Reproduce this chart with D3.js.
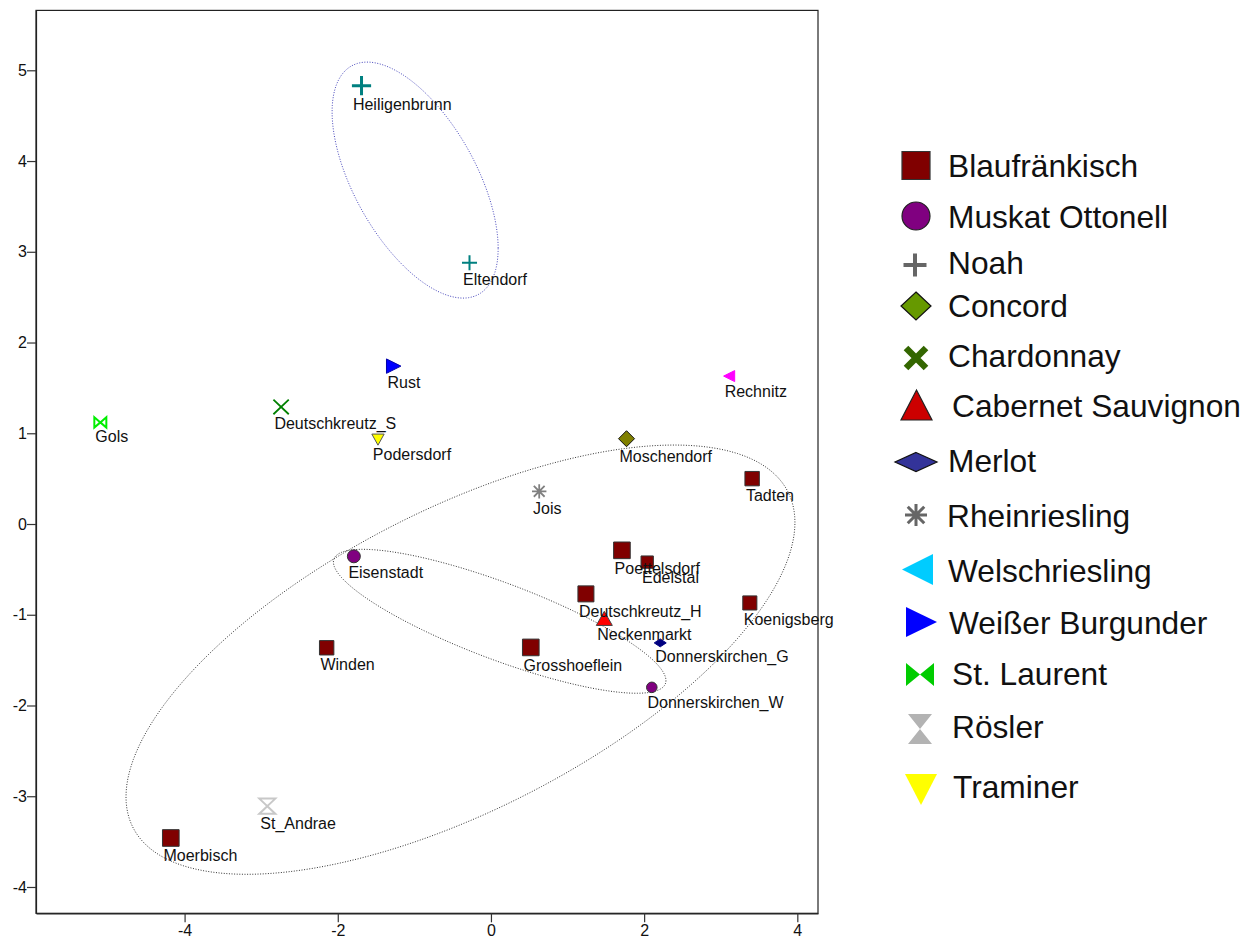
<!DOCTYPE html>
<html>
<head>
<meta charset="utf-8">
<script src="https://cdn.jsdelivr.net/npm/d3@7"></script>
<style>
  html, body { margin: 0; padding: 0; background: #fff; }
  svg { display: block; font-family: "Liberation Sans", Arial, sans-serif; }
</style>
</head>
<body>
<svg id="chart" width="1252" height="939"></svg>
<script>
// ---------------- DATA ----------------
const varieties = ["Blaufränkisch", "Muskat Ottonell", "Noah", "Concord", "Chardonnay",
  "Cabernet Sauvignon", "Merlot", "Rheinriesling", "Welschriesling", "Weißer Burgunder",
  "St. Laurent", "Rösler", "Traminer"];

const sites = ["Heiligenbrunn", "Eltendorf", "Rust", "Rechnitz", "Deutschkreutz_S", "Gols",
  "Podersdorf", "Moschendorf", "Jois", "Tadten", "Eisenstadt", "Poettelsdorf", "Edelstal",
  "Deutschkreutz_H", "Neckenmarkt", "Koenigsberg", "Winden", "Grosshoeflein",
  "Donnerskirchen_G", "Donnerskirchen_W", "St_Andrae", "Moerbisch"];

const siteVariety = ["Noah", "Noah", "Weißer Burgunder", "Welschriesling", "Chardonnay", "St. Laurent",
  "Traminer", "Concord", "Rheinriesling", "Blaufränkisch", "Muskat Ottonell", "Blaufränkisch", "Blaufränkisch",
  "Blaufränkisch", "Cabernet Sauvignon", "Blaufränkisch", "Blaufränkisch", "Blaufränkisch",
  "Merlot", "Muskat Ottonell", "Rösler", "Blaufränkisch"];

const dim1 = [-1.69, -0.28, -1.27, 3.11, -2.74, -5.10, -1.475, 1.77, 0.63, 3.41, -1.79, 1.71, 2.04,
  1.24, 1.48, 3.38, -2.145, 0.52, 2.21, 2.10, -2.92, -4.18];
const dim2 = [4.83, 2.88, 1.74, 1.63, 1.29, 1.12, 0.93, 0.94, 0.36, 0.50, -0.356, -0.29, -0.42,
  -0.77, -1.04, -0.87, -1.364, -1.36, -1.31, -1.80, -3.11, -3.46];
// relative marker weight
const weight = [1.2, 0.94, 0.9, 0.69, 0.96, 0.75, 0.77, 1.0, 0.9, 0.9, 0.81, 1.04, 0.77,
  1.0, 1.0, 0.88, 0.9, 1.04, 0.75, 0.66, 1.0, 1.04];

const xTicks = [-4, -2, 0, 2, 4];
const yTicks = [-4, -3, -2, -1, 0, 1, 2, 3, 4, 5];

// confidence ellipses in data units: centre, conjugate semi-axis vectors u and v
const ellipseCenter = [[-0.99, 3.79], [-0.398, -1.495], [0.114, -1.072]];
const ellipseU = [[1.084, -0.752], [4.367, 1.512], [2.171, -0.653]];
const ellipseV = [[0, -1.061], [0, 1.819], [0, -0.45]];

// ---------------- STYLE ----------------
const style = {
  "Blaufränkisch":      {shape: "square",   chart: "#800000", legend: "#800000", stroke: "#333", lstroke: "#333", filled: true},
  "Muskat Ottonell":    {shape: "circle",   chart: "#800080", legend: "#800080", stroke: "#333", lstroke: "#222", filled: true},
  "Noah":               {shape: "plus",     chart: "#008080", legend: "#666666", filled: false},
  "Concord":            {shape: "diamond",  chart: "#808000", legend: "#669900", stroke: "#111", lstroke: "#111", filled: true},
  "Chardonnay":         {shape: "x",        chart: "#008000", legend: "#336600", filled: false},
  "Cabernet Sauvignon": {shape: "triUp",    chart: "#ff0000", legend: "#cc0000", stroke: "#444", lstroke: "#222", filled: true},
  "Merlot":             {shape: "flatDiamond", chart: "#000080", legend: "#333399", stroke: "#000080", lstroke: "#111", filled: true},
  "Rheinriesling":      {shape: "asterisk", chart: "#808080", legend: "#666666", filled: false},
  "Welschriesling":     {shape: "triLeft",  chart: "#ff00ff", legend: "#00ccff", stroke: "#ff00ff", lstroke: "none", filled: true},
  "Weißer Burgunder":   {shape: "triRight", chart: "#0000ff", legend: "#0000ff", stroke: "#0000aa", lstroke: "none", filled: true},
  "St. Laurent":        {shape: "bowtie",   chart: "#00ee00", legend: "#00cc00", stroke: "#00ee00", lstroke: "none", filled: false, lfilled: true},
  "Rösler":             {shape: "hourglass", chart: "#c8c8c8", legend: "#b3b3b3", stroke: "#c8c8c8", lstroke: "none", filled: false, lfilled: true},
  "Traminer":           {shape: "triDown",  chart: "#ffff00", legend: "#ffff00", stroke: "#555", lstroke: "none", filled: true}
};

// shape path generator: w = full width, h = full height
function shapePath(shape, w, h) {
  const a = w / 2, b = h / 2;
  switch (shape) {
    case "square": return `M${-a},${-b}H${a}V${b}H${-a}Z`;
    case "plus": return `M${-a},0H${a}M0,${-b}V${b}`;
    case "diamond": case "flatDiamond": return `M0,${-b}L${a},0L0,${b}L${-a},0Z`;
    case "x": return `M${-a},${-b}L${a},${b}M${-a},${b}L${a},${-b}`;
    case "triUp": return `M0,${-b}L${a},${b}L${-a},${b}Z`;
    case "triDown": return `M${-a},${-b}L${a},${-b}L0,${b}Z`;
    case "triLeft": return `M${-a},0L${a},${-b}L${a},${b}Z`;
    case "triRight": return `M${a},0L${-a},${-b}L${-a},${b}Z`;
    case "bowtie": return `M${-a},${-b}L0,0L${-a},${b}ZM${a},${-b}L0,0L${a},${b}Z`;
    case "hourglass": return `M${-a},${-b}H${a}L0,0ZM${-a},${b}H${a}L0,0Z`;
    case "asterisk": {
      const d = a * 0.75;
      return `M0,${-b}V${b}M${-a},0H${a}M${-d},${-d}L${d},${d}M${-d},${d}L${d},${-d}`;
    }
  }
  return "";
}
function aspect(shape) {
  return {square: 1, circle: 1, plus: 1, diamond: 1, flatDiamond: 0.66, x: 0.95, triUp: 0.88,
    triDown: 0.9, triLeft: 1, triRight: 1, bowtie: 0.85, hourglass: 0.95, asterisk: 1}[shape];
}

// ---------------- CHART ----------------
const svg = d3.select("#chart");
const plot = {left: 36, right: 818, top: 10.4, bottom: 913.3};
const x = d3.scaleLinear().domain([-5.94, 4.27]).range([plot.left, plot.right]);
const y = d3.scaleLinear().domain([-4.29, 5.66]).range([plot.bottom, plot.top]);
const sizeScale = d3.scaleLinear().domain([0, 1]).range([0, 16]);

// frame
svg.append("rect").attr("x", plot.left).attr("y", plot.top)
  .attr("width", plot.right - plot.left).attr("height", plot.bottom - plot.top)
  .attr("fill", "none").attr("stroke", "#222").attr("stroke-width", 1.2);

// axes
const xAxis = svg.append("g").attr("transform", `translate(0,${plot.bottom})`)
  .call(d3.axisBottom(x).tickValues(xTicks).tickSize(9).tickSizeOuter(0).tickPadding(2).tickFormat(d3.format("d")));
const yAxis = svg.append("g").attr("transform", `translate(${plot.left},0)`)
  .call(d3.axisLeft(y).tickValues(yTicks).tickSize(9).tickSizeOuter(0).tickPadding(0).tickFormat(d3.format("d")));
[xAxis, yAxis].forEach(g => {
  g.select(".domain").attr("stroke", "#222").attr("stroke-width", 1.2);
  g.selectAll(".tick line").attr("stroke", "#333").attr("stroke-width", 1.2);
  g.selectAll(".tick text").attr("fill", "#111").style("font-size", "16px")
    .style("font-family", '"Liberation Sans", Arial, sans-serif');
});
xAxis.selectAll(".tick text").text(d => d < 0 ? "-" + Math.abs(d) : d);
yAxis.selectAll(".tick text").text(d => d < 0 ? "-" + Math.abs(d) : d);

// ellipses
const ellColors = ["#4444bb", "#333333", "#333333"];
ellipseCenter.forEach((c, i) => {
  const pts = d3.range(0, 361, 2).map(deg => {
    const t = deg * Math.PI / 180;
    return [c[0] + ellipseU[i][0] * Math.cos(t) + ellipseV[i][0] * Math.sin(t),
            c[1] + ellipseU[i][1] * Math.cos(t) + ellipseV[i][1] * Math.sin(t)];
  });
  svg.append("path")
    .attr("d", d3.line().x(p => x(p[0])).y(p => y(p[1])).curve(d3.curveLinearClosed)(pts))
    .attr("fill", "none").attr("stroke", ellColors[i]).attr("stroke-width", 1)
    .attr("stroke-dasharray", "1,1.6");
});

// points
const points = sites.map((s, i) => ({name: s, variety: siteVariety[i], x: dim1[i], y: dim2[i], w: weight[i]}));
const pg = svg.append("g");
points.forEach(p => {
  const st = style[p.variety];
  const w = sizeScale(p.w);
  const h = w * aspect(st.shape);
  const g = pg.append("g").attr("transform", `translate(${x(p.x)},${y(p.y)})`);
  if (st.shape === "circle") {
    g.append("circle").attr("r", w / 2).attr("fill", st.chart).attr("stroke", st.stroke).attr("stroke-width", 1);
  } else if (["plus", "x", "asterisk"].includes(st.shape)) {
    g.append("path").attr("d", shapePath(st.shape, w, h)).attr("fill", "none")
      .attr("stroke", st.chart).attr("stroke-width", st.shape === "plus" ? (w > 17 ? 3 : 2) : 1.8);
  } else if (!st.filled) {
    g.append("path").attr("d", shapePath(st.shape, w, h)).attr("fill", "none")
      .attr("stroke", st.stroke).attr("stroke-width", 2);
  } else {
    g.append("path").attr("d", shapePath(st.shape, w, h)).attr("fill", st.chart)
      .attr("stroke", st.stroke).attr("stroke-width", 1);
  }
  svg.append("text")
    .attr("x", x(p.x) - w / 2 + 1)
    .attr("y", y(p.y) + h / 2 + 15)
    .attr("fill", "#111").style("font-size", "16px")
    .text(p.name);
});

// ---------------- LEGEND ----------------
const legendSymbolY = [165.5, 216, 265, 306, 358, 405, 462, 515, 569.5, 622, 674.5, 729, 789.5];
const legendSymbolX = [916, 916, 915, 916, 916, 916.5, 916, 916, 917.5, 921.5, 920, 920, 921];
const legendSym = [[28, 28], [28, 28], [23, 23], [30, 28], [26, 24], [31, 30], [42, 19], [22, 22],
  [31, 31], [31, 30], [28, 23], [24, 30], [32, 31]];
const legendTextX = [948, 948, 948, 948, 948, 952, 948, 947, 948, 949, 952, 952, 953];
const legendBaseline = [177, 228, 274, 317, 367, 417, 472, 527, 582, 634, 685, 738, 798];

const lg = svg.append("g");
varieties.forEach((v, i) => {
  const st = style[v];
  const [w, h] = legendSym[i];
  const g = lg.append("g").attr("transform", `translate(${legendSymbolX[i]},${legendSymbolY[i]})`);
  if (st.shape === "circle") {
    g.append("circle").attr("r", w / 2).attr("fill", st.legend).attr("stroke", st.lstroke).attr("stroke-width", 1.2);
  } else if (st.shape === "plus") {
    g.append("path").attr("d", shapePath("plus", w, h)).attr("fill", "none").attr("stroke", st.legend).attr("stroke-width", 4);
  } else if (st.shape === "x") {
    g.append("path").attr("d", shapePath("x", w - 6, h - 4)).attr("fill", "none").attr("stroke", st.legend).attr("stroke-width", 6.5);
  } else if (st.shape === "asterisk") {
    g.append("path").attr("d", shapePath("asterisk", w, h)).attr("fill", "none").attr("stroke", st.legend).attr("stroke-width", 3);
  } else {
    g.append("path").attr("d", shapePath(st.shape, w, h)).attr("fill", st.legend)
      .attr("stroke", st.lstroke).attr("stroke-width", 1.2);
  }
  lg.append("text").attr("x", legendTextX[i]).attr("y", legendBaseline[i])
    .attr("fill", "#111").style("font-size", "31.7px").text(v);
});
</script>
</body>
</html>
